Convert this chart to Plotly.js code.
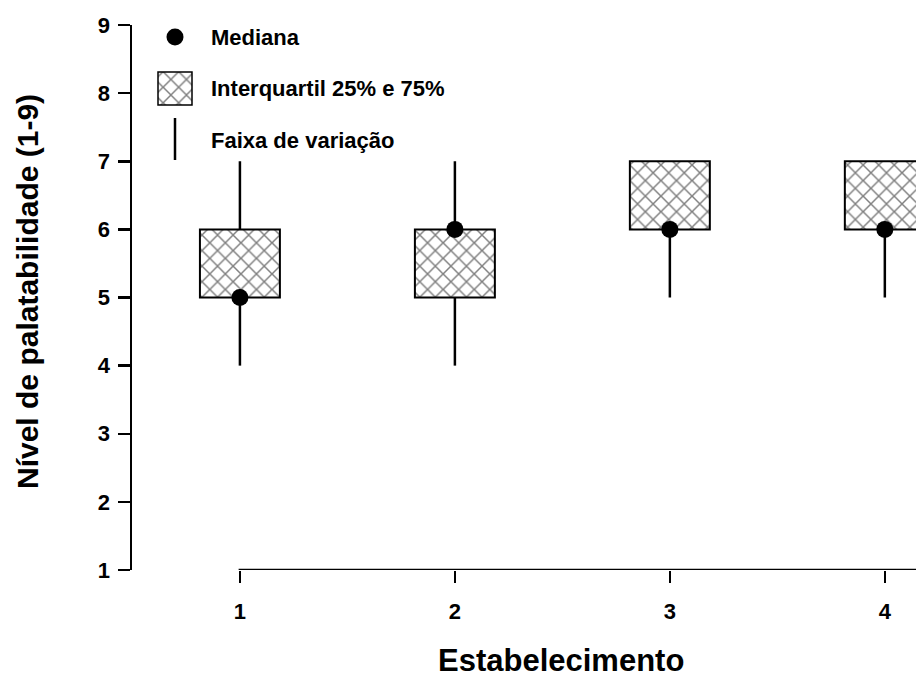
<!DOCTYPE html>
<html><head><meta charset="utf-8">
<script src="https://cdn.plot.ly/plotly-3.0.1.min.js"></script>
<style>html,body{margin:0;padding:0;background:#fff}#c{width:916px;height:677px}</style>
</head><body><div id="c"></div>
<script>
// Data
const categories = [1, 2, 3, 4];
const minimo  = [4, 4, 5, 5];
const q1      = [5, 5, 6, 6];
const q3      = [6, 6, 7, 7];
const maximo  = [7, 7, 7, 7];
const mediana = [5, 6, 6, 6];
const yTicks = [1,2,3,4,5,6,7,8,9];
const legendLabels = ['Mediana', 'Interquartil 25% e 75%', 'Faixa de variação'];
const xTitle = 'Estabelecimento';
const yTitle = 'Nível de palatabilidade (1-9)';

const FONT = 'Liberation Sans, Arial, sans-serif';
const pat = {shape:'x', size:11, solidity:0.25, fgcolor:'#000', bgcolor:'#fff', fillmode:'overlay'};

// whiskers: lower (min->q1) and upper (q3->max)
const wx = [], wy = [];
categories.forEach((c,i)=>{
  wx.push(c,c,null,c,c,null);
  wy.push(minimo[i], q1[i], null, q3[i], maximo[i], null);
});

const traces = [
  {type:'bar', x:categories, base:q1, y:q3.map((v,i)=>v-q1[i]), width:0.372,
   marker:{color:'#fff', line:{color:'#000', width:2}, pattern:pat},
   hoverinfo:'skip', showlegend:false},
  {type:'scatter', mode:'lines', x:wx, y:wy, line:{color:'#000', width:2.5},
   hoverinfo:'skip', showlegend:false},
  {type:'scatter', mode:'markers', x:categories, y:mediana,
   marker:{color:'#000', size:17, line:{width:0}}, hoverinfo:'skip', showlegend:false},
  // legend swatches on pixel-like overlay axes (x2: px from plot left, y2: px from plot top)
  {type:'scatter', mode:'markers', x:[43], y:[12], xaxis:'x2', yaxis:'y2',
   marker:{color:'#000', size:17}, hoverinfo:'skip', showlegend:false},
  {type:'bar', x:[43], base:[47], y:[33], width:[34], xaxis:'x2', yaxis:'y2',
   marker:{color:'#fff', line:{color:'#000', width:1.5}, pattern:pat}, hoverinfo:'skip', showlegend:false},
  {type:'scatter', mode:'lines', x:[43,43], y:[93,135], xaxis:'x2', yaxis:'y2',
   line:{color:'#000', width:2.5}, hoverinfo:'skip', showlegend:false}
];

const legY = [12, 63, 115];
const annotations = legendLabels.map((t,i)=>({
  xref:'x2', yref:'y2', x:77, y:legY[i], text:t, showarrow:false,
  xanchor:'left', yanchor:'middle', font:{family:FONT, size:22, color:'#000', weight:'bold'}
}));
annotations.push({xref:'paper', yref:'paper', x:(561-132)/784, y:-(660-570)/545, text:xTitle,
  showarrow:false, xanchor:'center', yanchor:'middle', font:{family:FONT, size:31, color:'#000', weight:'bold'}});
annotations.push({xref:'paper', yref:'paper', x:-(132-27)/784, y:(570-292)/545, text:yTitle, textangle:-90,
  showarrow:false, xanchor:'center', yanchor:'middle', font:{family:FONT, size:30, color:'#000', weight:'bold'}});

const layout = {
  width:916, height:677,
  margin:{l:132, r:0, t:25, b:107},
  paper_bgcolor:'#fff', plot_bgcolor:'#fff',
  showlegend:false,
  barmode:'overlay',
  font:{family:FONT, color:'#000'},
  xaxis:{range:[0.498, 4.145], tickmode:'array', tickvals:categories, ticktext:categories.map(String),
    ticks:'outside', ticklen:12, tickwidth:2.5, tickcolor:'#000', showline:false, showgrid:false, zeroline:false,
    ticklabelstandoff:10, tickfont:{family:FONT, size:22, weight:'bold'}},
  yaxis:{range:[1,9], tickmode:'array', tickvals:yTicks, ticktext:yTicks.map(String),
    ticks:'outside', ticklen:12, tickwidth:2.5, tickcolor:'#000', showline:true, linewidth:2.5, linecolor:'#000',
    showgrid:false, zeroline:false, ticklabelstandoff:3, tickfont:{family:FONT, size:22, weight:'bold'}},
  xaxis2:{overlaying:'x', range:[0,784], visible:false, fixedrange:true},
  yaxis2:{overlaying:'y', range:[545,0], visible:false, fixedrange:true},
  shapes:[{type:'line', xref:'x', yref:'y', x0:categories[0]-0.006, x1:4.2, y0:1, y1:1,
    line:{color:'#000', width:2.5}}],
  annotations:annotations
};

Plotly.newPlot('c', traces, layout, {displayModeBar:false, staticPlot:true});
</script></body></html>
